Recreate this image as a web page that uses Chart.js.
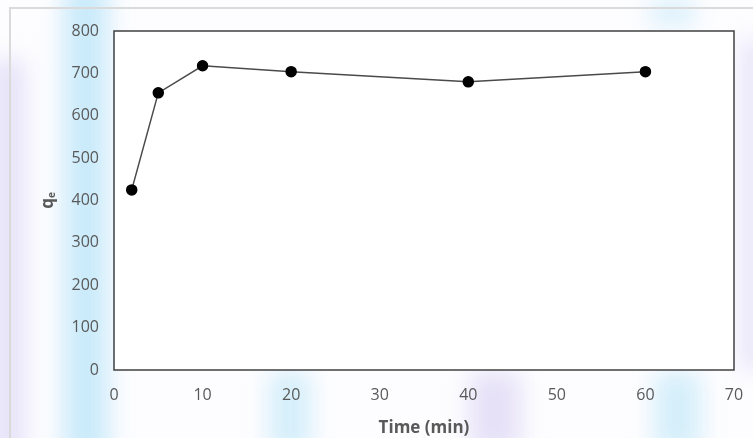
<!DOCTYPE html>
<html>
<head>
<meta charset="utf-8">
<script src="https://cdn.jsdelivr.net/npm/chart.js@4"></script>
<style>
  html, body { margin: 0; padding: 0; background: #ffffff; }
  #wrap { position: relative; width: 753px; height: 438px; overflow: hidden; background: #fdfdff; }
  .wm { position: absolute; filter: blur(12px); }
  #frame { position: absolute; left: 9px; top: 7px; width: 800px; height: 500px; border: 2px solid #dadada; box-sizing: border-box; }
  canvas { position: absolute; left: 0; top: 0; }
</style>
</head>
<body>
<div id="wrap">
  <!-- faint watermark behind the chart -->
  <div class="wm" style="left:64px;top:-20px;width:44px;height:480px;background:rgba(150,215,245,0.5);"></div>
  <div class="wm" style="left:-10px;top:60px;width:34px;height:400px;background:rgba(200,190,240,0.45);"></div>
  <div class="wm" style="left:270px;top:372px;width:40px;height:80px;background:rgba(160,220,245,0.45);"></div>
  <div class="wm" style="left:470px;top:372px;width:50px;height:80px;background:rgba(205,195,240,0.5);"></div>
  <div class="wm" style="left:655px;top:372px;width:45px;height:80px;background:rgba(160,220,245,0.45);"></div>
  <div class="wm" style="left:650px;top:0px;width:45px;height:25px;background:rgba(160,220,245,0.4);"></div>
  <div class="wm" style="left:740px;top:40px;width:30px;height:330px;background:rgba(205,195,240,0.4);"></div>
  <div id="frame"></div>
  <canvas id="myChart" width="753" height="438"></canvas>
</div>
<script>
// time (min) and adsorption capacity
const timeMin = [2, 5, 10, 20, 40, 60];
const qeValues = [425, 654, 718, 704, 680, 704];

const points = timeMin.map((t, i) => ({ x: t, y: qeValues[i] }));

//White plot area with a dark box round it
const plotBox = {
  id: "plotBox",
  beforeDatasetsDraw(chart) {
    const a = chart.chartArea;
    const ctx = chart.ctx;
    ctx.save();
    ctx.fillStyle = "#ffffff";
    ctx.fillRect(a.left, a.top, a.right - a.left, a.bottom - a.top);
    ctx.strokeStyle = "#404040";
    ctx.lineWidth = 1.5;
    ctx.strokeRect(a.left, a.top, a.right - a.left, a.bottom - a.top);
    ctx.restore();
  },
};

//Y title "q" with subscript "e", turned on its side
const yTitle = {
  id: "yTitle",
  afterDraw(chart) {
    const a = chart.chartArea;
    const ctx = chart.ctx;
    ctx.save();
    ctx.translate(53, (a.top + a.bottom) / 2);
    ctx.rotate(-Math.PI / 2);
    ctx.fillStyle = "#595959";
    ctx.textBaseline = "alphabetic";
    ctx.font = "bold 17px 'Open Sans'";
    const qW = ctx.measureText("q").width;
    ctx.font = "bold 10px 'Open Sans'";
    const eW = ctx.measureText("e").width;
    const start = -(qW + eW) / 2;
    ctx.font = "bold 17px 'Open Sans'";
    ctx.fillText("q", start, 0);
    ctx.font = "bold 10px 'Open Sans'";
    ctx.fillText("e", start + qW, 2);
    ctx.restore();
  },
};

const tickFont = { family: "Open Sans", size: 16 };
const titleFont = { family: "Open Sans", size: 17, weight: "bold" };

new Chart(document.getElementById("myChart"), {
  type: "scatter",
  data: {
    datasets: [
      {
        data: points,
        showLine: true,
        borderColor: "#4a4a4a",
        borderWidth: 1.5,
        backgroundColor: "#000000",
        pointBackgroundColor: "#000000",
        pointBorderColor: "#000000",
        pointRadius: 5,
        tension: 0,
      },
    ],
  },
  plugins: [plotBox, yTitle],
  options: {
    responsive: false,
    animation: false,
    layout: { padding: { left: 0, top: 31, right: 19, bottom: 0 } },
    plugins: {
      legend: { display: false },
      tooltip: { enabled: false },
    },
    scales: {
      x: {
        type: "linear",
        min: 0,
        max: 70,
        ticks: { stepSize: 10, color: "#595959", font: tickFont, padding: 8 },
        grid: { display: false },
        border: { display: false },
        title: {
          display: true,
          text: "Time (min)",
          color: "#595959",
          font: titleFont,
          padding: { top: 2, bottom: 0 },
        },
        afterFit(scale) {
          scale.height = 68;
        },
      },
      y: {
        min: 0,
        max: 800,
        ticks: { stepSize: 100, color: "#595959", font: tickFont, padding: 7 },
        grid: { display: false },
        border: { display: false },
        afterFit(scale) {
          scale.width = 114;
        },
      },
    },
  },
});
</script>
</body>
</html>
